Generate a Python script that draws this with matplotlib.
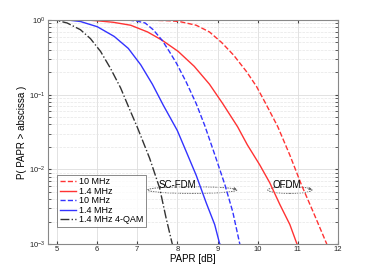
import matplotlib
matplotlib.use("Agg")
import matplotlib.pyplot as plt
from matplotlib.patches import Ellipse
import numpy as np

# PAPR [dB] and log10 P(PAPR > x)
ofdm_10_x = [4.78, 7.3, 7.8, 8.05, 8.47, 8.8, 9.1, 9.4, 9.72, 9.97, 10.2, 10.5, 10.8, 11.09, 11.38, 11.71, 11.72]
ofdm_10_y = [0.0, -0.002, -0.01, -0.02, -0.07, -0.16, -0.3, -0.47, -0.69, -0.89, -1.12, -1.43, -1.81, -2.21, -2.57, -2.99, -3.0]

ofdm_14_x = [4.78, 5.8, 6.0, 6.4, 6.84, 7.26, 7.62, 8.02, 8.42, 8.8, 9.13, 9.5, 9.74, 10.05, 10.3, 10.55, 10.8, 10.97, 10.98]
ofdm_14_y = [0.0, -0.002, -0.01, -0.03, -0.07, -0.16, -0.27, -0.42, -0.62, -0.86, -1.12, -1.43, -1.67, -1.94, -2.18, -2.47, -2.74, -2.99, -3.0]

sc_10_x = [4.78, 6.8, 7.0, 7.2, 7.4, 7.62, 7.8, 7.98, 8.22, 8.47, 8.68, 8.93, 9.18, 9.38, 9.55, 9.56]
sc_10_y = [0.0, -0.002, -0.015, -0.04, -0.13, -0.27, -0.42, -0.58, -0.83, -1.12, -1.41, -1.8, -2.2, -2.57, -2.99, -3.0]

sc_14_x = [4.78, 5.3, 5.59, 6.01, 6.43, 6.78, 7.09, 7.38, 7.65, 8.0, 8.22, 8.47, 8.72, 8.93, 9.05, 9.06]
sc_14_y = [0.0, -0.002, -0.02, -0.09, -0.22, -0.38, -0.6, -0.86, -1.14, -1.48, -1.76, -2.08, -2.45, -2.74, -2.99, -3.0]

qam_x = [4.78, 5.0, 5.26, 5.59, 5.84, 6.09, 6.34, 6.59, 6.8, 7.0, 7.31, 7.56, 7.72, 7.87, 7.88]
qam_y = [0.0, -0.005, -0.04, -0.13, -0.25, -0.42, -0.65, -0.91, -1.18, -1.43, -1.85, -2.25, -2.65, -2.99, -3.0]

series = [
    (ofdm_10_x, ofdm_10_y, "#ff3333", "--", "10 MHz"),
    (ofdm_14_x, ofdm_14_y, "#ff3333", "-", "1.4 MHz"),
    (sc_10_x, sc_10_y, "#3333ff", "--", "10 MHz"),
    (sc_14_x, sc_14_y, "#3333ff", "-", "1.4 MHz"),
    (qam_x, qam_y, "#333333", "-.", "1.4 MHz 4-QAM"),
]

plt.rcParams["font.family"] = ["Liberation Sans", "DejaVu Sans"]

fig = plt.figure(figsize=(3.74, 2.76), dpi=100)
ax = fig.add_axes([0.128, 0.116, 0.776, 0.8115])

for xs, ys, col, ls, lab in series:
    ax.plot(xs, 10 ** np.array(ys), color=col, ls=ls, lw=1.0, label=lab)

ax.set_yscale("log")
ax.set_xlim(4.78, 12)
ax.set_ylim(1e-3, 1)
ax.set_xticks(range(5, 13))
ax.grid(True, which="major", color="#dddddd", lw=0.6)
ax.grid(True, which="minor", color="#e6e6e6", lw=0.5, ls="--")
ax.tick_params(labelsize=5.5, colors="#444444", length=2, which="both", direction="in",
               right=True, top=True, pad=1.5)
ax.tick_params(labelcolor="#222222")
for sp in ax.spines.values():
    sp.set_color("#888888")
    sp.set_linewidth(0.8)

ax.set_xlabel("PAPR [dB]", fontsize=7, labelpad=1)
ax.set_ylabel("P( PAPR > abscissa )", fontsize=7, labelpad=2)

# annotations: label + dotted ellipse around the pair of curves
tr = ax.get_xaxis_transform()
for label, tx, ex, ew in [("SC-FDM", 7.53, 8.37, 2.22), ("OFDM", 10.36, 10.8, 1.1)]:
    ax.text(tx, 0.265, label, fontsize=7, ha="left", va="center", transform=tr)
    ax.add_patch(Ellipse((ex, 0.241), ew, 0.03, transform=tr,
                         fill=False, ec="#666666", lw=0.7, ls=(0, (1.5, 1))))
    ax.annotate("", xy=(ex + ew / 2, 0.243), xytext=(ex + ew / 2 - 0.12, 0.25),
                xycoords=tr, arrowprops=dict(arrowstyle="-|>", color="#666666",
                                             lw=0.5, mutation_scale=4))

leg = ax.legend(loc="lower left", bbox_to_anchor=(0.025, 0.068), fontsize=6.5,
                frameon=True, fancybox=False, borderpad=0.3, labelspacing=0.05,
                handlelength=1.8, handletextpad=0.3, borderaxespad=0.2)
leg.get_frame().set_edgecolor("#555555")
leg.get_frame().set_linewidth(0.6)

fig.savefig("out.png", dpi=100)
